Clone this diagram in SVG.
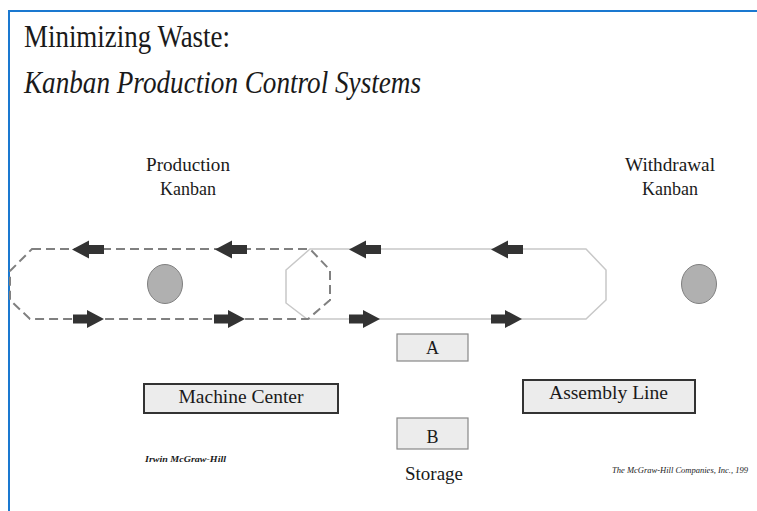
<svg xmlns="http://www.w3.org/2000/svg" xmlns:xlink="http://www.w3.org/1999/xlink" width="757" height="511" viewBox="0 0 757 511">
<style>
.serif{font-family:"Liberation Serif","Times New Roman",serif;fill:#1a1a1a}
.lbl{font-size:18px;text-anchor:middle}
.box{fill:#ececec;stroke:#888;stroke-width:1.2}
.box2{fill:#ececec;stroke:#333;stroke-width:2}
.dot{fill:#b0b0b0;stroke:#808080;stroke-width:1}
.dash{fill:none;stroke:#808080;stroke-width:2;stroke-dasharray:9 5}
.solid{fill:none;stroke:#c8c8c8;stroke-width:1.5}
.arr{fill:#333}
.small{font-size:9px;font-style:italic}
</style>
<defs>
<path id="arrL" d="M0,0 L17,-9 L17,-4.5 L32,-4.5 L32,4.5 L17,4.5 L17,9 Z"/>
<path id="arrR" d="M0,0 L-17,-9 L-17,-4.5 L-31,-4.5 L-31,4.5 L-17,4.5 L-17,9 Z"/>
</defs>
<rect width="757" height="511" fill="#fff"/>
<rect x="9" y="11" width="760" height="520" fill="none" stroke="#1a78d0" stroke-width="2"/>
<g id="title" class="serif">
<text x="24" y="47" font-size="32" textLength="206" lengthAdjust="spacingAndGlyphs">Minimizing Waste:</text>
<text x="24" y="93" font-size="32" font-style="italic" textLength="397" lengthAdjust="spacingAndGlyphs">Kanban Production Control Systems</text>
</g>
<g id="connectors">
<path class="solid" d="M310,249 L586,249 L606,270 L606,300 L586,319 L307,319 L286,303 L286,270 Z"/>
<path class="dash" d="M32,249 L310,249 L330,270 L330,300 L308,319 L30,319 L10,300 L10,271 Z"/>
<g class="arr">
<use xlink:href="#arrL" x="72" y="249.5"/>
<use xlink:href="#arrL" x="215" y="249.5"/>
<use xlink:href="#arrL" x="349" y="249.5"/>
<use xlink:href="#arrL" x="491" y="249.5"/>
<use xlink:href="#arrR" x="104" y="319"/>
<use xlink:href="#arrR" x="245" y="319"/>
<use xlink:href="#arrR" x="380" y="319"/>
<use xlink:href="#arrR" x="522" y="319"/>
</g>
</g>
<g id="production-kanban" class="serif lbl">
<text x="188" y="171" textLength="84" lengthAdjust="spacingAndGlyphs">Production</text>
<text x="188" y="195">Kanban</text>
</g>
<g id="withdrawal-kanban" class="serif lbl">
<text x="670" y="171" textLength="90" lengthAdjust="spacingAndGlyphs">Withdrawal</text>
<text x="670" y="195">Kanban</text>
</g>
<g id="card-left"><ellipse class="dot" cx="165" cy="284" rx="17.5" ry="19.5"/></g>
<g id="card-right"><ellipse class="dot" cx="699" cy="284" rx="17.5" ry="19.5"/></g>
<g id="storage-a">
<rect class="box" x="397" y="334" width="71" height="27"/>
<text class="serif lbl" x="432.5" y="354">A</text>
</g>
<g id="storage-b">
<rect class="box" x="397" y="418" width="71" height="31"/>
<text class="serif lbl" x="432.5" y="443">B</text>
</g>
<g id="storage-label">
<text class="serif lbl" x="434" y="480" textLength="58" lengthAdjust="spacingAndGlyphs">Storage</text>
</g>
<g id="machine-center">
<rect class="box2" x="144" y="384" width="194" height="29"/>
<text class="serif lbl" x="241" y="403" textLength="125" lengthAdjust="spacingAndGlyphs">Machine Center</text>
</g>
<g id="assembly-line">
<rect class="box2" x="523" y="380" width="172" height="33"/>
<text class="serif lbl" x="608.5" y="399" textLength="119" lengthAdjust="spacingAndGlyphs">Assembly Line</text>
</g>
<g id="footer" class="serif">
<text class="small" x="145" y="462" font-weight="bold" textLength="81" lengthAdjust="spacingAndGlyphs">Irwin McGraw-Hill</text>
<text class="small" x="612" y="473" textLength="136" lengthAdjust="spacingAndGlyphs">The McGraw-Hill Companies, Inc., 199</text>
</g>
</svg>
